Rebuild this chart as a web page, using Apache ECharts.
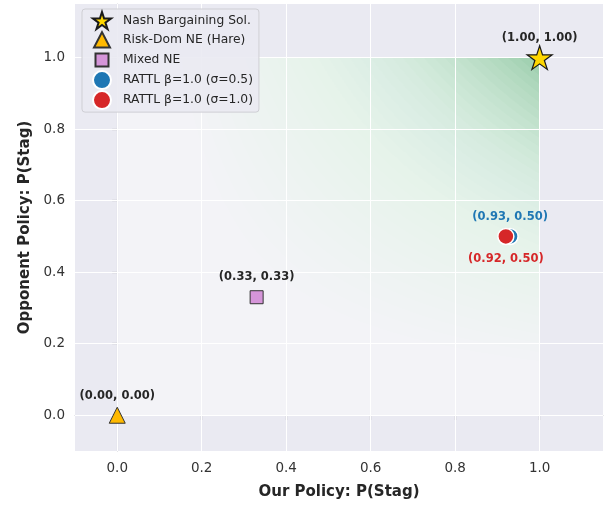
<!DOCTYPE html>
<html>
<head>
<meta charset="utf-8">
<script src="https://cdn.jsdelivr.net/npm/echarts@6/dist/echarts.min.js"></script>
<style>
  html, body { margin: 0; padding: 0; background: #ffffff; }
  #chart { width: 608px; height: 505px; }
</style>
</head>
<body>
<div id="chart"></div>
<script>
// Tick positions on both axes
const xTicks = [0.0, 0.2, 0.4, 0.6, 0.8, 1.0];
const yTicks = [0.0, 0.2, 0.4, 0.6, 0.8, 1.0];

// Policy points: [our P(Stag), opponent P(Stag)]
const nashBargaining = [1.00, 1.00];
const riskDominantNE = [0.00, 0.00];
const mixedNE = [0.33, 0.33];
const rattlSigmaHalf = [0.93, 0.50];
const rattlSigmaOne = [0.92, 0.50];

// Legend / series names
const seriesNames = [
  'Nash Bargaining Sol.',
  'Risk-Dom NE (Hare)',
  'Mixed NE',
  'RATTL \u03b2=1.0 (\u03c3=0.5)',
  'RATTL \u03b2=1.0 (\u03c3=1.0)'
];

// Joint-welfare (x*y) contour levels for the shaded region
const welfareLevels = [];
for (let c = 0.15; c < 0.99; c += 0.025) welfareLevels.push(+c.toFixed(3));

const FONT = 'DejaVu Sans';
const fmt = p => '(' + p[0].toFixed(2) + ', ' + p[1].toFixed(2) + ')';

// five-point star symbol
function starPath() {
  const pts = [];
  for (let i = 0; i < 10; i++) {
    const a = (-90 + i * 36) * Math.PI / 180;
    const r = i % 2 ? 19 : 50;
    pts.push((50 + r * Math.cos(a)).toFixed(2) + ',' + (50 + r * Math.sin(a)).toFixed(2));
  }
  return 'path://M' + pts.join('L') + 'Z';
}

// legend glyphs drawn inside an 18x18 box (outer move-to points keep the box size)
const legendTriangle = 'path://M0,0M9,1L17,16.5L1,16.5ZM18,18';
const legendSquare = 'path://M0,0M2.5,2.5L15.5,2.5L15.5,15.5L2.5,15.5ZM18,18';

function pointLabel(color, dy) {
  return {
    show: true,
    position: 'inside',
    offset: [0, dy],
    formatter: p => fmt(p.value),
    fontFamily: FONT,
    fontWeight: 'bold',
    fontSize: 11.5,
    color: color
  };
}

const chart = echarts.init(document.getElementById('chart'), null, { renderer: 'canvas' });

const gridLines = []
  .concat(xTicks.map(v => ({ xAxis: v })))
  .concat(yTicks.map(v => ({ yAxis: v })));

const option = {
  animation: false,
  backgroundColor: '#ffffff',
  grid: {
    left: 75, right: 5, top: 4, bottom: 53,
    show: true, backgroundColor: '#EAEAF2', borderWidth: 0
  },
  xAxis: {
    type: 'value', min: -0.1, max: 1.15,
    name: 'Our Policy: P(Stag)', nameLocation: 'middle', nameGap: 34,
    nameTextStyle: { fontFamily: FONT, fontWeight: 'bold', fontSize: 15, color: '#262626' },
    axisLine: { show: true, lineStyle: { color: '#cbcbd2', width: 1.2 } },
    axisTick: { show: true, customValues: xTicks, length: 5, lineStyle: { color: '#333333', width: 1.1 } },
    axisLabel: { customValues: xTicks, formatter: v => v.toFixed(1), fontFamily: FONT, fontSize: 13.5, color: '#333333', margin: 10 },
    splitLine: { show: false }
  },
  yAxis: {
    type: 'value', min: -0.1, max: 1.15,
    name: 'Opponent Policy: P(Stag)', nameLocation: 'middle', nameGap: 41,
    nameTextStyle: { fontFamily: FONT, fontWeight: 'bold', fontSize: 15, color: '#262626' },
    axisLine: { show: true, lineStyle: { color: '#cbcbd2', width: 1.2 } },
    axisTick: { show: true, customValues: yTicks, length: 5, lineStyle: { color: '#333333', width: 1.1 } },
    axisLabel: { customValues: yTicks, formatter: v => v.toFixed(1), fontFamily: FONT, fontSize: 13.5, color: '#333333', margin: 10 },
    splitLine: { show: false }
  },
  legend: {
    orient: 'vertical', left: 82, top: 9, z: 10,
    padding: [2, 6, 2, 10],
    itemWidth: 18, itemHeight: 18, itemGap: 0,
    backgroundColor: 'rgba(234,234,242,0.9)',
    borderColor: '#cfcfd4', borderWidth: 1, borderRadius: 3,
    textStyle: { fontFamily: FONT, fontSize: 12.3, color: '#262626', padding: [0, 0, 0, 7] },
    data: [
      { name: seriesNames[0] },
      { name: seriesNames[1], icon: legendTriangle },
      { name: seriesNames[2], icon: legendSquare },
      { name: seriesNames[3] },
      { name: seriesNames[4] }
    ]
  },
  series: [
    {
      // feasible policy square with welfare shading toward (1,1)
      type: 'custom',
      z: 1, silent: true,
      data: [[0, 0]],
      renderItem: function (params, api) {
        const p0 = api.coord([0, 0]);
        const p1 = api.coord([1, 1]);
        const children = [{
          type: 'rect',
          shape: { x: p0[0], y: p1[1], width: p1[0] - p0[0], height: p0[1] - p1[1] },
          style: { fill: 'rgba(255,255,255,0.42)' }
        }];
        welfareLevels.forEach(c => {
          const pts = [];
          const n = 48;
          for (let i = 0; i <= n; i++) {
            const x = Math.pow(c, 1 - i / n);
            pts.push(api.coord([x, c / x]));
          }
          pts.push(api.coord([1, 1]));
          const a = 0.003 + 0.058 * Math.pow(c, 4);
          children.push({
            type: 'polygon',
            shape: { points: pts },
            style: { fill: 'rgba(55,165,90,' + a.toFixed(4) + ')' }
          });
        });
        return { type: 'group', children: children };
      }
    },
    {
      // white grid lines over the shaded area
      type: 'scatter', z: 2, silent: true,
      data: [[0, 0]], symbolSize: 0,
      markLine: {
        z: 2,
        silent: true, symbol: ['none', 'none'], animation: false,
        label: { show: false },
        lineStyle: { color: '#ffffff', width: 1, type: 'solid', opacity: 1 },
        emphasis: { disabled: true },
        data: gridLines
      }
    },
    {
      name: seriesNames[0], type: 'scatter', z: 5,
      symbol: starPath(), symbolSize: 25, symbolKeepAspect: true,
      itemStyle: { color: '#FFD700', borderColor: '#1a1a1a', borderWidth: 1.2, opacity: 1 },
      label: pointLabel('#262626', -20),
      data: [nashBargaining]
    },
    {
      name: seriesNames[1], type: 'scatter', z: 5,
      symbol: 'triangle', symbolSize: 16,
      itemStyle: { color: '#FFB900', borderColor: '#333333', borderWidth: 1, opacity: 1 },
      label: pointLabel('#262626', -19),
      data: [riskDominantNE]
    },
    {
      name: seriesNames[2], type: 'scatter', z: 5,
      symbol: 'rect', symbolSize: 13,
      itemStyle: { color: '#D595D9', borderColor: '#333333', borderWidth: 1, opacity: 1 },
      label: pointLabel('#262626', -20),
      data: [mixedNE]
    },
    {
      name: seriesNames[3], type: 'scatter', z: 5,
      symbol: 'circle', symbolSize: 16,
      itemStyle: { color: '#1f77b4', borderColor: '#ffffff', borderWidth: 1.5, opacity: 1 },
      label: pointLabel('#1f77b4', -19),
      data: [rattlSigmaHalf]
    },
    {
      name: seriesNames[4], type: 'scatter', z: 6,
      symbol: 'circle', symbolSize: 16,
      itemStyle: { color: '#d62728', borderColor: '#ffffff', borderWidth: 1.5, opacity: 1 },
      label: pointLabel('#d62728', 23),
      data: [rattlSigmaOne]
    }
  ]
};

chart.setOption(option);
</script>
</body>
</html>
